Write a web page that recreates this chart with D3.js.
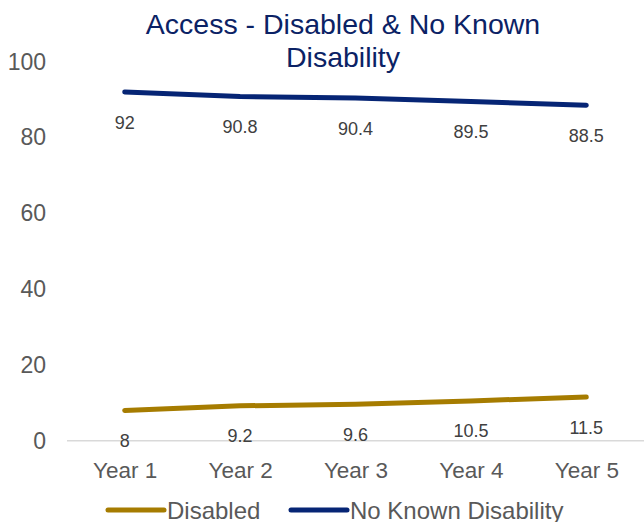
<!DOCTYPE html>
<html>
<head>
<meta charset="utf-8">
<script src="https://cdn.jsdelivr.net/npm/d3@7"></script>
<style>
  html, body { margin: 0; padding: 0; background: #fff; }
  svg { display: block; font-family: "Liberation Sans", Arial, sans-serif; }
</style>
</head>
<body>
<svg id="chart" width="644" height="522"></svg>
<script>
const categories = ["Year 1", "Year 2", "Year 3", "Year 4", "Year 5"];
const disabled = [8, 9.2, 9.6, 10.5, 11.5];
const noKnownDisability = [92, 90.8, 90.4, 89.5, 88.5];
const yTicks = [0, 20, 40, 60, 80, 100];
const seriesNames = ["Disabled", "No Known Disability"];
const titleLines = ["Access - Disabled & No Known", "Disability"];

const colors = ["#a67c00", "#062575"];
const series = [disabled, noKnownDisability];

const svg = d3.select("#chart");
const x = d3.scalePoint().domain(categories).range([67, 644]).padding(0.5);
const y = d3.scaleLinear().domain([0, 100]).range([440.7, 61.7]);

// Title
svg.append("g").selectAll("text").data(titleLines).join("text")
  .attr("x", 343).attr("y", (d, i) => 34 + i * 33)
  .attr("text-anchor", "middle")
  .attr("font-size", 28.5)
  .attr("fill", "#0b2265")
  .text(d => d);

// Y axis (labels only)
const yAxis = d3.axisLeft(y).tickValues(yTicks).tickSize(0).tickPadding(0);
const gy = svg.append("g").attr("transform", "translate(46,0)").call(yAxis);
gy.select(".domain").remove();
gy.selectAll("text").attr("font-size", 23).attr("fill", "#595959")
  .attr("font-family", "\"Liberation Sans\", Arial, sans-serif");

// X axis
const xAxis = d3.axisBottom(x).tickSize(0).tickPadding(0);
const gx = svg.append("g").attr("transform", `translate(0,${y(0)})`).call(xAxis);
gx.select(".domain").attr("stroke", "#d9d9d9").attr("stroke-width", 1.5)
  .attr("d", "M67,0H644");
gx.selectAll("text").attr("font-size", 22.5).attr("fill", "#595959")
  .attr("dy", 0).attr("y", 37)
  .attr("font-family", "\"Liberation Sans\", Arial, sans-serif");

// Lines
const line = d3.line().x((d, i) => x(categories[i])).y(d => y(d));
series.forEach((s, k) => {
  svg.append("path").datum(s)
    .attr("d", line)
    .attr("fill", "none")
    .attr("stroke", colors[k])
    .attr("stroke-width", 5)
    .attr("stroke-linecap", "round")
    .attr("stroke-linejoin", "round");
});

// Data labels
series.forEach((s, k) => {
  svg.append("g").selectAll("text").data(s).join("text")
    .attr("x", (d, i) => x(categories[i]))
    .attr("y", d => y(d) + 36.5)
    .attr("text-anchor", "middle")
    .attr("font-size", 18)
    .attr("fill", "#404040")
    .text(d => d);
});

// Legend
const legendItems = [
  { name: seriesNames[0], color: colors[0], x1: 108, x2: 164, tx: 167 },
  { name: seriesNames[1], color: colors[1], x1: 291, x2: 347, tx: 350 }
];
const lg = svg.append("g");
legendItems.forEach(it => {
  lg.append("line").attr("x1", it.x1).attr("x2", it.x2)
    .attr("y1", 510).attr("y2", 510)
    .attr("stroke", it.color).attr("stroke-width", 5)
    .attr("stroke-linecap", "round");
  lg.append("text").attr("x", it.tx).attr("y", 518.5)
    .attr("font-size", 24).attr("fill", "#595959")
    .text(it.name);
});
</script>
</body>
</html>
